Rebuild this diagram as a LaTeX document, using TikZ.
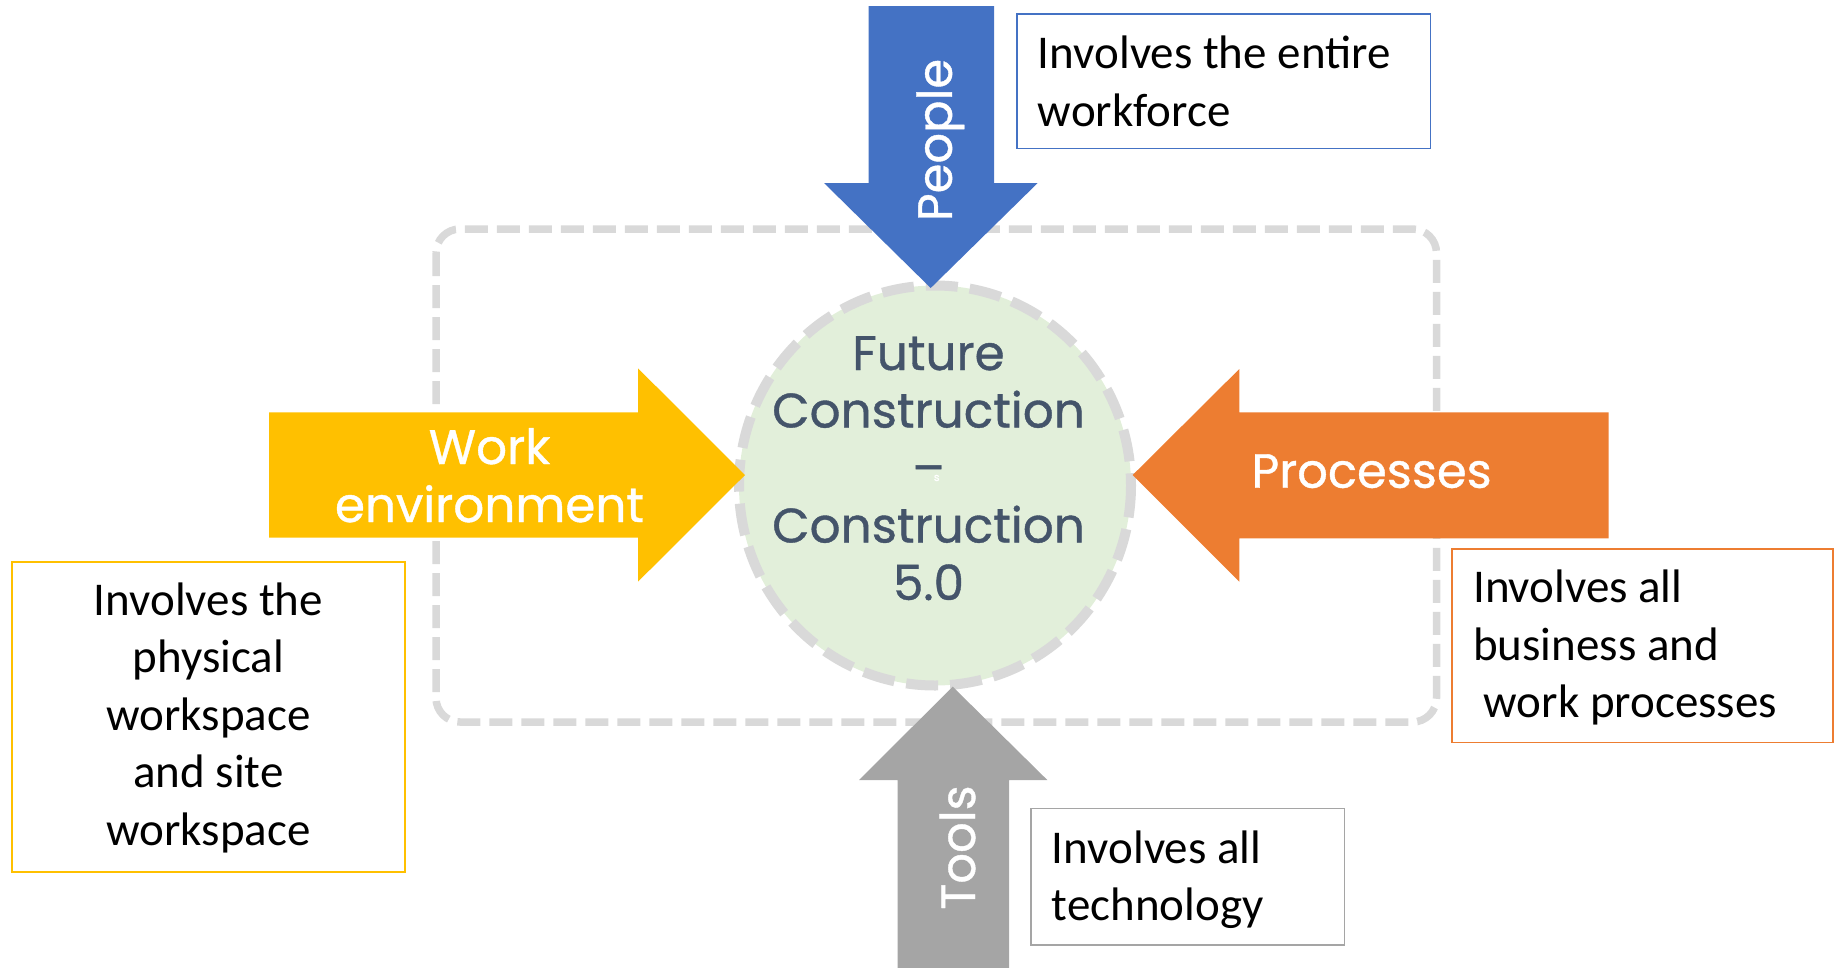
\documentclass[tikz,border=0pt]{standalone}
\usepackage{fontspec}
\setmainfont{Carlito}
\newfontfamily\pop[FakeBold=0.8]{Poppins}
\definecolor{pblue}{HTML}{4472C4}
\definecolor{wyellow}{HTML}{FFC000}
\definecolor{porange}{HTML}{ED7D31}
\definecolor{tgray}{HTML}{A5A5A5}
\definecolor{dashgray}{HTML}{D9D9D9}
\definecolor{circfill}{HTML}{E2EFDA}
\definecolor{slate}{HTML}{44546A}
\begin{document}
\begin{tikzpicture}[x=1pt,y=-1pt,
  boxtext/.style={font=\fontsize{47}{57.5}\selectfont, inner sep=0pt, anchor=base west, align=left, text=black},
  arrowlabel/.style={font=\pop\fontsize{48}{58}\selectfont, text=white, inner sep=0pt, anchor=base},
  centertext/.style={font=\pop\fontsize{48.5}{57.5}\selectfont, text=slate, inner sep=0pt, anchor=base, align=center},
  infobox/.style={line width=1.5pt, fill=white}]
\useasboundingbox (0,0) rectangle (1834,967);
% frame
\draw[dashgray, line width=7.5pt, dash pattern=on 23pt off 9pt, rounded corners=24pt] (436,229) rectangle (1436.5,722);
% centre circle
\coordinate (c) at (935,485.5);
\draw[fill=circfill, draw=dashgray, line width=10pt, dash pattern=on 32pt off 12pt] (c) ellipse [x radius=196, y radius=200];
\node[centertext] (ctext) at (928.5,600) {Future\\Construction\\–\\Construction\\5.0};
\node[font=\pop\fontsize{11}{12}\selectfont, text=white, inner sep=0pt, anchor=base] (s) at (936.7,481) {s};
% arrows
\fill[pblue] (868.5,6) -- (994,6) -- (994,183) -- (1037.7,183) -- (930.7,288) -- (824,183) -- (868.5,183) -- cycle;
\fill[wyellow] (269,412.3) -- (638,412.3) -- (638,368.3) -- (745,475) -- (638,581.7) -- (638,537.7) -- (269,537.7) -- cycle;
\fill[porange] (1608.6,412.3) -- (1239.3,412.3) -- (1239.3,369) -- (1132.7,475) -- (1239.3,581.7) -- (1239.3,538.3) -- (1608.6,538.3) -- cycle;
\fill[tgray] (897.7,968) -- (897.7,780) -- (859,780) -- (952.7,686.7) -- (1047.3,780) -- (1009,780) -- (1009,968) -- cycle;
% arrow labels
\node[arrowlabel, rotate=90] (people) at (951.8,140) {People};
\node[arrowlabel, rotate=90] (tools) at (975,847.5) {Tools};
\node[arrowlabel, align=center, font=\pop\fontsize{48.5}{58}\selectfont] (work) at (489.5,522) {Work\\environment};
\node[arrowlabel] (proc) at (1371.6,487.7) {Processes};
% info boxes
\draw[infobox, draw=pblue] (1017,14) rectangle (1430.5,148.5);
\node[boxtext] (peopletext) at (1037.7,126) {Involves the entire\\workforce};
\draw[infobox, draw=wyellow] (12,562) rectangle (405,872);
\node[boxtext, anchor=base, align=center] (worktext) at (208.4,845) {Involves the\\physical\\workspace\\and site\\workspace};
\draw[infobox, draw=porange] (1452,549) rectangle (1833,742.7);
\node[boxtext] (proctext) at (1473,717.7) {Involves all\\business and\\\hspace*{10.6pt}work processes};
\draw[infobox, draw=tgray] (1031,808.3) rectangle (1344.3,945);
\node[boxtext] (tooltext) at (1051.7,920.7) {Involves all\\technology};
\end{tikzpicture}
\end{document}
